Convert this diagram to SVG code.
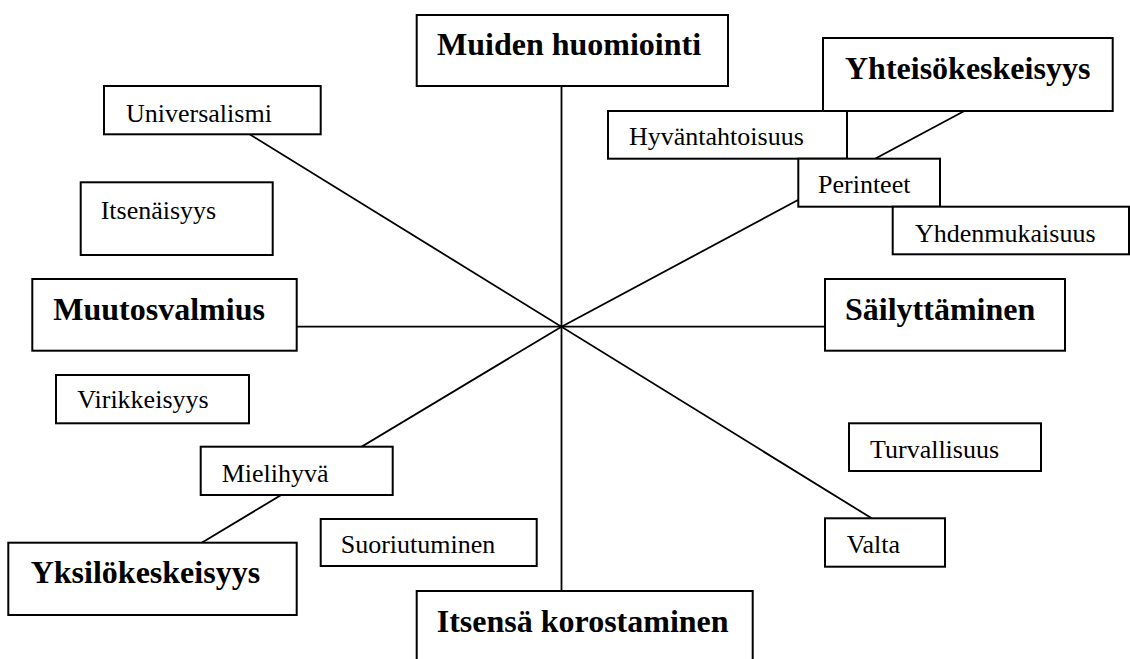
<svg xmlns="http://www.w3.org/2000/svg" width="1130" height="659" viewBox="0 0 1130 659">
  <style>
    .box { fill: #ffffff; stroke: #000000; stroke-width: 2; }
    .main { font-family: 'Liberation Serif', Tinos, 'Times New Roman', Times, 'DejaVu Serif', serif; font-weight: bold; font-size: 32px; fill: #000000; }
    .sub { font-family: 'Liberation Serif', Tinos, 'Times New Roman', Times, 'DejaVu Serif', serif; font-size: 26px; fill: #000000; }
    .axis { stroke: #000000; stroke-width: 1.8; fill: none; }
  </style>
  <rect width="1130" height="659" fill="#ffffff"/>

  <!-- axes through the centre point -->
  <g id="connectors">
    <line class="axis" x1="561.5" y1="86" x2="561.5" y2="591"/>
    <line class="axis" x1="296.7" y1="326.7" x2="825" y2="326.7"/>
    <line class="axis" x1="250" y1="134.5" x2="871.7" y2="518.3"/>
    <polyline class="axis" points="201.7,542.7 561.5,326.7 964.3,111"/>
  </g>

  <!-- main dimensions (bold) -->
  <g id="muiden-huomiointi">
    <rect class="box" x="416.7" y="15" width="311.3" height="71"/>
    <text class="main" x="437" y="55">Muiden huomiointi</text>
  </g>
  <g id="yhteisokeskeisyys">
    <rect class="box" x="823" y="38" width="289.7" height="73"/>
    <text class="main" x="845" y="79">Yhteisökeskeisyys</text>
  </g>
  <g id="muutosvalmius">
    <rect class="box" x="32.3" y="279" width="264.4" height="71.7"/>
    <text class="main" x="53.3" y="320">Muutosvalmius</text>
  </g>
  <g id="sailyttaminen">
    <rect class="box" x="825" y="279" width="240" height="71.7"/>
    <text class="main" x="845" y="320">Säilyttäminen</text>
  </g>
  <g id="yksilokeskeisyys">
    <rect class="box" x="8.3" y="542.7" width="288.4" height="72.3"/>
    <text class="main" x="30.7" y="583.3">Yksilökeskeisyys</text>
  </g>
  <g id="itsensa-korostaminen">
    <rect class="box" x="416.7" y="591" width="336" height="80"/>
    <text class="main" x="436.7" y="631.7">Itsensä korostaminen</text>
  </g>

  <!-- values -->
  <g id="universalismi">
    <rect class="box" x="104" y="86" width="216.7" height="48.3"/>
    <text class="sub" x="126" y="122.3">Universalismi</text>
  </g>
  <g id="itsenaisyys">
    <rect class="box" x="80.7" y="182.3" width="192" height="72.7"/>
    <text class="sub" x="100.7" y="219">Itsenäisyys</text>
  </g>
  <g id="hyvantahtoisuus">
    <rect class="box" x="608" y="111" width="239" height="47.7"/>
    <text class="sub" x="629" y="145">Hyväntahtoisuus</text>
  </g>
  <g id="perinteet">
    <rect class="box" x="798.3" y="158.7" width="141.7" height="48"/>
    <text class="sub" x="818" y="193.3">Perinteet</text>
  </g>
  <g id="yhdenmukaisuus">
    <rect class="box" x="892.7" y="206.7" width="236.3" height="47.6"/>
    <text class="sub" x="915" y="241.7">Yhdenmukaisuus</text>
  </g>
  <g id="virikkeisyys">
    <rect class="box" x="56" y="375" width="193" height="48.3"/>
    <text class="sub" x="77.3" y="408.3">Virikkeisyys</text>
  </g>
  <g id="mielihyva">
    <rect class="box" x="200.7" y="446.7" width="192" height="48.3"/>
    <text class="sub" x="221.7" y="481.7">Mielihyvä</text>
  </g>
  <g id="suoriutuminen">
    <rect class="box" x="320.7" y="519" width="216" height="47"/>
    <text class="sub" x="340.7" y="553.3">Suoriutuminen</text>
  </g>
  <g id="turvallisuus">
    <rect class="box" x="849" y="423.3" width="192" height="47.7"/>
    <text class="sub" x="870" y="458.3">Turvallisuus</text>
  </g>
  <g id="valta">
    <rect class="box" x="825" y="518.3" width="120" height="48.4"/>
    <text class="sub" x="846.7" y="553.3">Valta</text>
  </g>
</svg>
